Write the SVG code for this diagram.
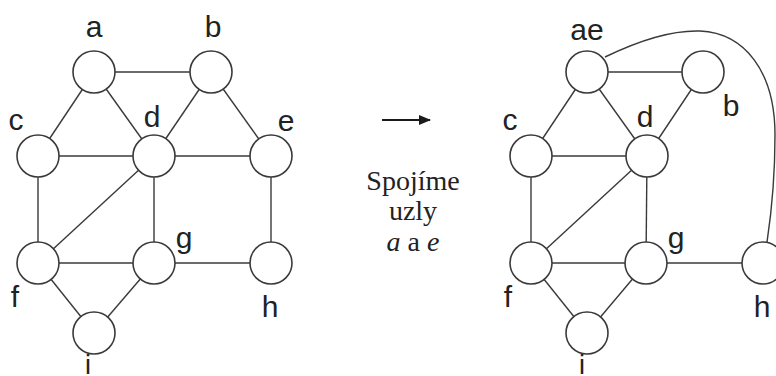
<svg xmlns="http://www.w3.org/2000/svg" width="776" height="376" viewBox="0 0 776 376">
  <style>
    .edge { stroke: #3a3a3a; stroke-width: 1.4; fill: none; }
    .node circle { fill: #ffffff; stroke: #3a3a3a; stroke-width: 1.6; }
    .lbl { font-family: "Liberation Sans", Arial, sans-serif; font-size: 30px; fill: #222222; text-anchor: middle; }
    .lbl-low { font-size: 27px; }
    .cap { font-family: "Liberation Serif", "Times New Roman", serif; font-size: 28px; fill: #222222; text-anchor: middle; }
  </style>
  <defs>
    <marker id="arrowhead" markerWidth="12" markerHeight="10" refX="11" refY="5" orient="auto" markerUnits="userSpaceOnUse">
      <path d="M0,0 L12,5 L0,10 z" fill="#1a1a1a"/>
    </marker>
  </defs>

  <rect width="776" height="376" fill="#ffffff"/>

  <!-- Original graph: edges -->
  <g id="edges-left">
    <line class="edge" x1="94" y1="72" x2="211" y2="72"/>
    <line class="edge" x1="94" y1="72" x2="38" y2="156"/>
    <line class="edge" x1="94" y1="72" x2="154" y2="156"/>
    <line class="edge" x1="211" y1="72" x2="154" y2="156"/>
    <line class="edge" x1="211" y1="72" x2="271" y2="156"/>
    <line class="edge" x1="38" y1="156" x2="271" y2="156"/>
    <line class="edge" x1="38" y1="156" x2="38" y2="263"/>
    <line class="edge" x1="154" y1="156" x2="38" y2="263"/>
    <line class="edge" x1="154" y1="156" x2="154" y2="263"/>
    <line class="edge" x1="271" y1="156" x2="271" y2="263"/>
    <line class="edge" x1="38" y1="263" x2="271" y2="263"/>
    <line class="edge" x1="38" y1="263" x2="94" y2="333"/>
    <line class="edge" x1="154" y1="263" x2="94" y2="333"/>
  </g>

  <!-- Original graph: nodes -->
  <g id="node-a" class="node"><circle cx="94" cy="72" r="21"/><text class="lbl" x="94" y="37">a</text></g>
  <g id="node-b" class="node"><circle cx="211" cy="72" r="21"/><text class="lbl" x="213" y="37">b</text></g>
  <g id="node-c" class="node"><circle cx="38" cy="156" r="21"/><text class="lbl" x="16" y="130">c</text></g>
  <g id="node-d" class="node"><circle cx="154" cy="156" r="21"/><text class="lbl" x="152" y="127">d</text></g>
  <g id="node-e" class="node"><circle cx="271" cy="156" r="21"/><text class="lbl" x="286" y="131">e</text></g>
  <g id="node-f" class="node"><circle cx="38" cy="263" r="21"/><text class="lbl" x="15" y="307">f</text></g>
  <g id="node-g" class="node"><circle cx="154" cy="263" r="21"/><text class="lbl" x="184" y="248">g</text></g>
  <g id="node-h" class="node"><circle cx="271" cy="263" r="21"/><text class="lbl" x="270" y="317">h</text></g>
  <g id="node-i" class="node"><circle cx="94" cy="333" r="21"/><text class="lbl lbl-low" x="88" y="374">i</text></g>

  <!-- Transition arrow and caption -->
  <g id="transition">
    <line x1="382" y1="120" x2="430" y2="120" stroke="#1a1a1a" stroke-width="2" marker-end="url(#arrowhead)"/>
    <text class="cap" x="413" y="190">Spojíme</text>
    <text class="cap" x="413" y="220">uzly</text>
    <text class="cap" x="413" y="251"><tspan font-style="italic">a</tspan> a <tspan font-style="italic">e</tspan></text>
  </g>

  <!-- Merged graph: edges -->
  <g id="edges-right">
    <line class="edge" x1="587" y1="72" x2="703" y2="72"/>
    <line class="edge" x1="587" y1="72" x2="531" y2="156"/>
    <line class="edge" x1="587" y1="72" x2="647" y2="156"/>
    <line class="edge" x1="703" y1="72" x2="647" y2="156"/>
    <line class="edge" x1="531" y1="156" x2="647" y2="156"/>
    <line class="edge" x1="531" y1="156" x2="531" y2="263"/>
    <line class="edge" x1="647" y1="156" x2="531" y2="263"/>
    <line class="edge" x1="647" y1="156" x2="646" y2="263"/>
    <line class="edge" x1="531" y1="263" x2="763" y2="263"/>
    <line class="edge" x1="531" y1="263" x2="587" y2="333"/>
    <line class="edge" x1="646" y1="263" x2="587" y2="333"/>
    <path class="edge" d="M605,57 C640,40 672,30 700,31 C745,33 775,72 775,135 C775,190 770,222 767,242"/>
  </g>

  <!-- Merged graph: nodes -->
  <g id="node-ae" class="node"><circle cx="587" cy="72" r="21"/><text class="lbl" x="587" y="40">ae</text></g>
  <g id="node-b2" class="node"><circle cx="703" cy="72" r="21"/><text class="lbl" x="731" y="116">b</text></g>
  <g id="node-c2" class="node"><circle cx="531" cy="156" r="21"/><text class="lbl" x="510" y="130">c</text></g>
  <g id="node-d2" class="node"><circle cx="647" cy="156" r="21"/><text class="lbl" x="645" y="127">d</text></g>
  <g id="node-f2" class="node"><circle cx="531" cy="263" r="21"/><text class="lbl" x="508" y="307">f</text></g>
  <g id="node-g2" class="node"><circle cx="646" cy="263" r="21"/><text class="lbl" x="676" y="248">g</text></g>
  <g id="node-h2" class="node"><circle cx="763" cy="263" r="21"/><text class="lbl" x="762" y="317">h</text></g>
  <g id="node-i2" class="node"><circle cx="587" cy="333" r="21"/><text class="lbl lbl-low" x="582" y="374">i</text></g>
</svg>
